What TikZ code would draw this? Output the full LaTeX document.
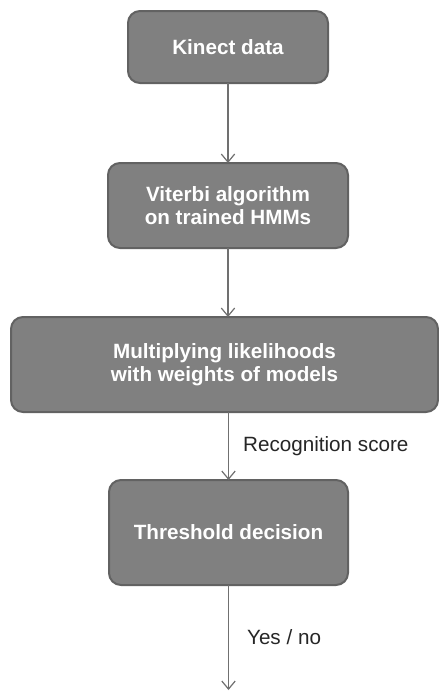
\documentclass[tikz,border=0pt]{standalone}
\usepackage{fontspec}
\setmainfont{Liberation Sans}
\usetikzlibrary{arrows.meta}

\definecolor{boxfill}{RGB}{128,128,128}
\definecolor{boxline}{RGB}{98,98,98}
\definecolor{flowline}{RGB}{112,112,112}

\tikzset{every picture/.style={line width=0.75pt}}
\tikzset{
  stepbox/.style={draw=boxline, fill=boxfill, line width=1.5pt, rounded corners=9pt,
    inner sep=0pt, outer sep=0pt, align=center, text=white,
    font=\fontsize{15.5}{17.5}\selectfont\bfseries},
  flow/.style={draw=flowline, line width=0.9pt, -{Straight Barb[length=6pt,width=10pt]}},
  flowlabel/.style={anchor=west, inner sep=0pt, text=black!85,
    font=\fontsize{15.5}{17.5}\selectfont}
}

\begin{document}
\begin{tikzpicture}[x=0.75pt,y=0.75pt,yscale=-1,xscale=1]
\useasboundingbox (0,0) rectangle (439,693);

% Text Node
\node[stepbox, minimum width=150pt, minimum height=54pt] (kinect) at (228,47) {Kinect data};
% Text Node
\node[stepbox, minimum width=180pt, minimum height=63.75pt] (viterbi) at (228,205.5) {Viterbi algorithm\\on trained HMMs};
% Text Node
\node[stepbox, minimum width=320.25pt, minimum height=71.25pt] (weights) at (224.5,364.5) {Multiplying likelihoods\\with weights of models};
% Text Node
\node[stepbox, minimum width=179.25pt, minimum height=78.75pt] (threshold) at (228.5,532.5) {Threshold decision};
\coordinate (output) at (228.5,690);

% Connection
\draw[flow] (kinect) -- (viterbi);
% Connection
\draw[flow] (viterbi) -- (viterbi |- weights.north);
% Connection
\draw[flow] (weights.south -| threshold) -- (threshold)
  node[flowlabel, pos=0.5, xshift=10.5pt] (score) {Recognition score};
% Connection
\draw[flow] (threshold) -- (output)
  node[flowlabel, pos=0.5, xshift=13.5pt] (decision) {Yes / no};

\end{tikzpicture}
\end{document}
